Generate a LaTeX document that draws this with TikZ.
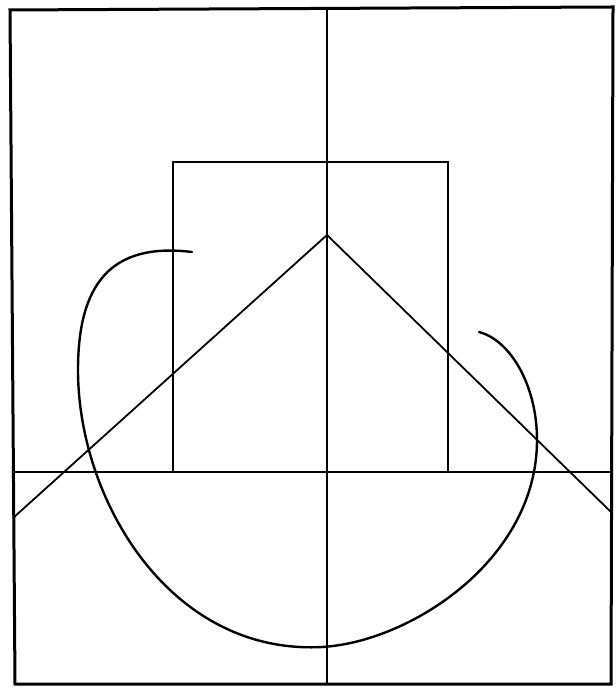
\documentclass[tikz,border=0pt]{standalone}
\begin{document}
\begin{tikzpicture}[x=0.5pt,y=-0.5pt,
  frame/.style={line width=1.5pt,line join=miter},
  ln/.style={line width=0.9pt},
  crv/.style={line width=1.2pt,line cap=round}]
\useasboundingbox[fill=white] (0,0) rectangle (615,688);
% outer frame
\draw[frame] (10,10) -- (613,7) -- (611,684) -- (15,684) -- cycle;
% vertical axis
\coordinate (vt) at (327,9);
\coordinate (vb) at (327,684);
\draw[ln] (vt) -- (vb);
% horizontal line
\coordinate (hl) at (12,472);
\coordinate (hr) at (612,472);
\draw[ln] (hl) -- (hr);
% rectangle
\draw[ln] (173,472) -- (173,162) -- (448,162) -- (448,472);
% triangle
\coordinate (apex) at (327,235);
\coordinate (dl) at (13,518);
\coordinate (dr) at (611,512);
\draw[ln] (dl) -- (apex) -- (dr);
% curve
\coordinate (c0) at (192,252);
\coordinate (c1) at (78,370);
\coordinate (c2) at (322,647);
\coordinate (c3) at (537,440);
\coordinate (c4) at (479,332);
\draw[crv] (c0) .. controls (110,242) and (78,285) .. (c1)
  .. controls (78,500) and (170,655) .. (c2)
  .. controls (410,642) and (537,560) .. (c3)
  .. controls (537,385) and (510,340) .. (c4);
\end{tikzpicture}
\end{document}
